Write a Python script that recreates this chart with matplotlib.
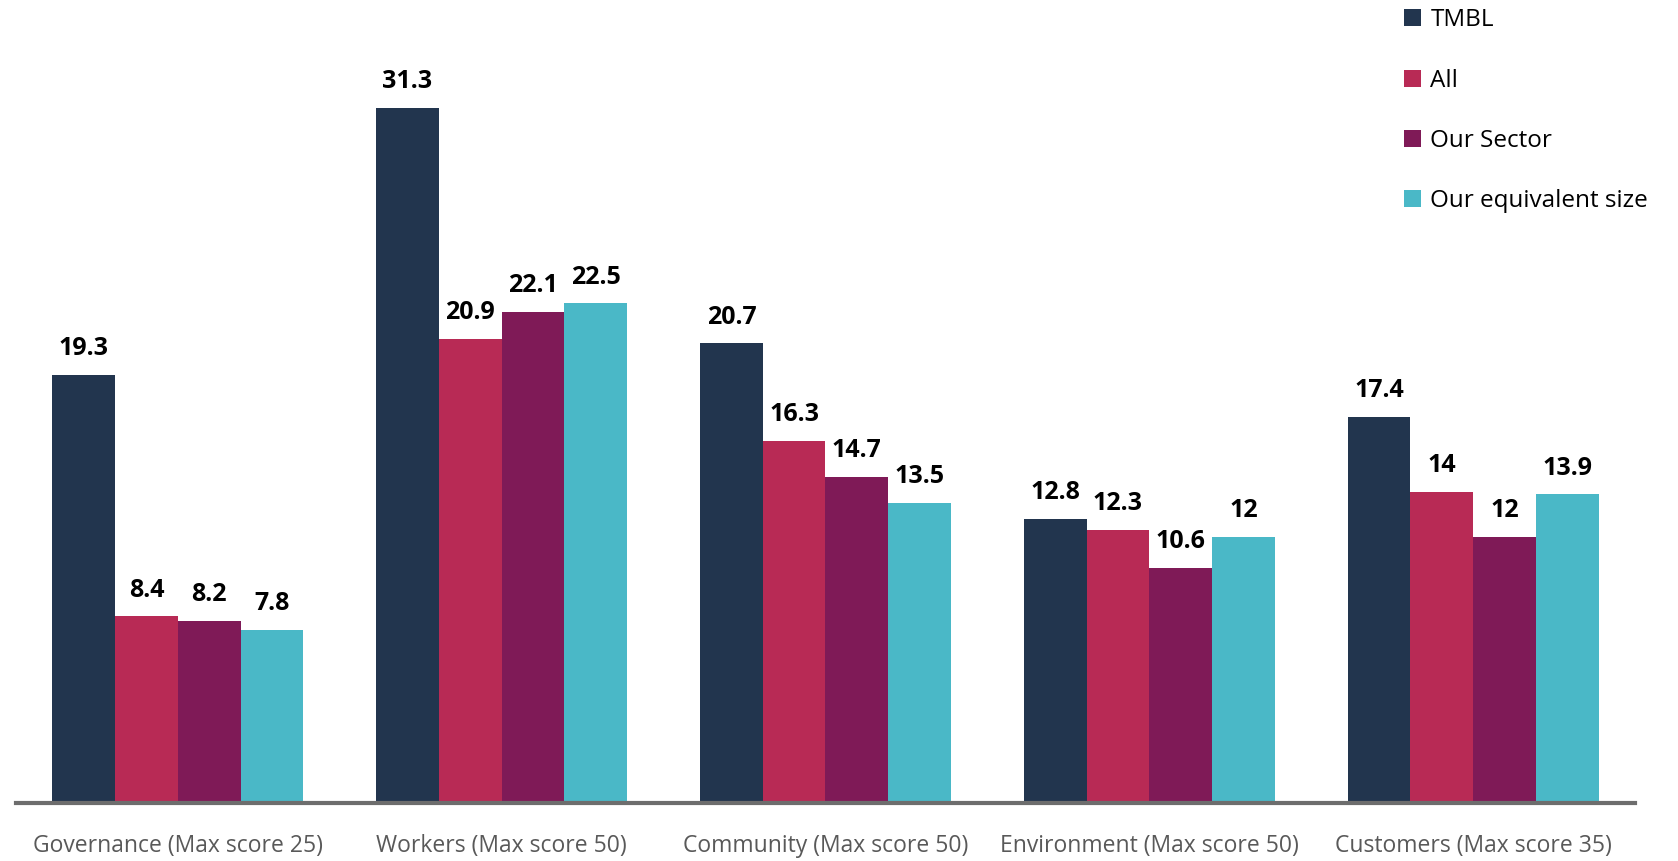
import numpy as np
import matplotlib
matplotlib.use("Agg")
import matplotlib.pyplot as plt

categories = ["Governance (Max score 25)", "Workers (Max score 50)", "Community (Max score 50)",
              "Environment (Max score 50)", "Customers (Max score 35)"]
series_names = ["TMBL", "All", "Our Sector", "Our equivalent size"]
tmbl = [19.3, 31.3, 20.7, 12.8, 17.4]
all_orgs = [8.4, 20.9, 16.3, 12.3, 14]
our_sector = [8.2, 22.1, 14.7, 10.6, 12]
equiv_size = [7.8, 22.5, 13.5, 12, 13.9]
colors = ["#22354e", "#b82a55", "#7f1a57", "#4ab8c7"]

plt.rcParams['font.family'] = ['Open Sans', 'DejaVu Sans']

fig = plt.figure(figsize=(16.78, 8.61), dpi=100)
ax = fig.add_axes([0.0095, 0.0674, 0.9649, 0.9326])

x = np.arange(len(categories))
bw = 0.775 / 4
handles = []
for i, vals in enumerate([tmbl, all_orgs, our_sector, equiv_size]):
    pos = x - 0.775 / 2 + bw * (i + 0.5)
    b = ax.bar(pos, vals, width=bw, color=colors[i], label=series_names[i])
    handles.append(b)
    for p, v in zip(pos, vals):
        ax.annotate("{:g}".format(v), xy=(p, v), xytext=(0, 10), textcoords="offset points",
                    ha="center", va="bottom", fontsize=18, fontweight="bold", color="black")

ax.set_xlim(-0.5, 4.5)
ax.set_ylim(0, 36.17)
ax.set_yticks([])
ax.set_xticks(x)
ax.set_xticklabels(categories, fontsize=16.5, color="#595959")
ax.tick_params(axis="x", length=0, pad=22)
for s in ["top", "right", "left"]:
    ax.spines[s].set_visible(False)
ax.spines["bottom"].set_color("#6d6d6d")
ax.spines["bottom"].set_linewidth(3)

fig.legend(handles=handles, loc="upper left", bbox_to_anchor=(0.8235, 1.016), frameon=False,
           fontsize=17.5, handlelength=0.7, handleheight=0.7, handletextpad=0.4,
           labelspacing=1.5)

fig.savefig("out.png", dpi=100)
